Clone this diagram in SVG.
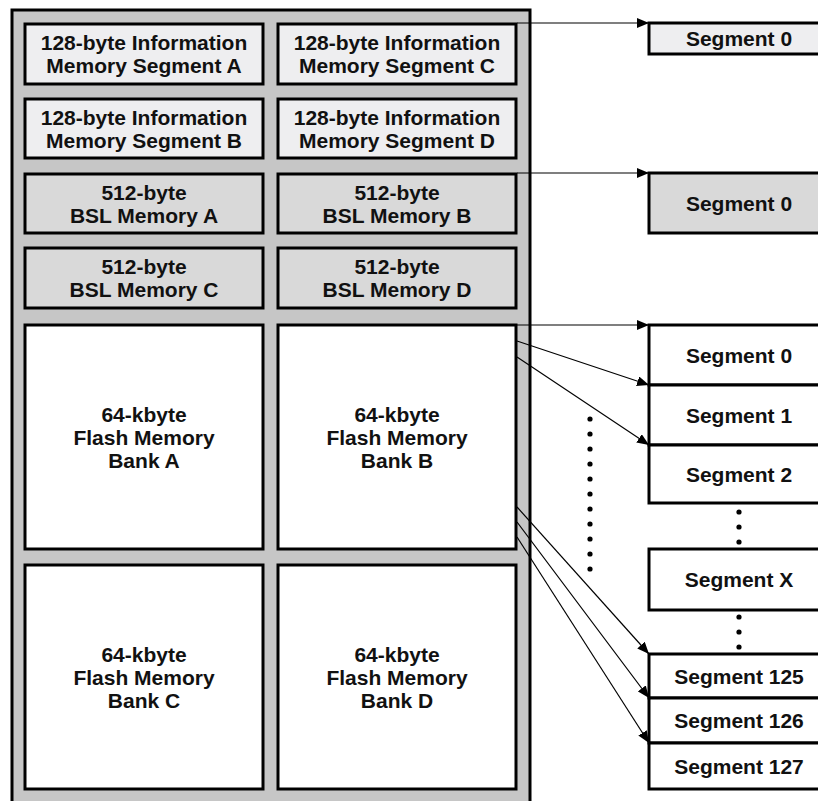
<svg xmlns="http://www.w3.org/2000/svg" width="818" height="801" viewBox="0 0 818 801">
<defs>
<style>
.blk{stroke:#000;stroke-width:3}
.info{fill:#eeeef0}
.bsl{fill:#d9d9d9}
.flash{fill:#fff}
.t{font-family:"Liberation Sans",Arial,sans-serif;font-weight:bold;font-size:21px;fill:#111;text-anchor:middle}
.c{stroke:#000;stroke-width:1.2;fill:none;marker-end:url(#ah)}
.dot{fill:#000}
</style>
<marker id="ah" viewBox="0 0 12 10" refX="12" refY="5" markerWidth="12" markerHeight="10" markerUnits="userSpaceOnUse" orient="auto">
<path d="M0,0 L12,5 L0,10 Z" fill="#000"/>
</marker>
</defs>
<rect width="818" height="801" fill="#fff"/>
<g id="container">
<rect x="12" y="10" width="518" height="794" fill="#c6c6c6" class="blk"/>
</g>
<g id="info-a"><rect x="25" y="24" width="238" height="60" class="blk info"/><text class="t" x="144" y="50">128-byte Information</text><text class="t" x="144" y="73">Memory Segment A</text></g>
<g id="info-c"><rect x="278" y="24" width="238" height="60" class="blk info"/><text class="t" x="397" y="50">128-byte Information</text><text class="t" x="397" y="73">Memory Segment C</text></g>
<g id="info-b"><rect x="25" y="99" width="238" height="59" class="blk info"/><text class="t" x="144" y="124.5">128-byte Information</text><text class="t" x="144" y="147.5">Memory Segment B</text></g>
<g id="info-d"><rect x="278" y="99" width="238" height="59" class="blk info"/><text class="t" x="397" y="124.5">128-byte Information</text><text class="t" x="397" y="147.5">Memory Segment D</text></g>
<g id="bsl-a"><rect x="25" y="174" width="238" height="59" class="blk bsl"/><text class="t" x="144" y="199.5">512-byte</text><text class="t" x="144" y="222.5">BSL Memory A</text></g>
<g id="bsl-b"><rect x="278" y="174" width="238" height="59" class="blk bsl"/><text class="t" x="397" y="199.5">512-byte</text><text class="t" x="397" y="222.5">BSL Memory B</text></g>
<g id="bsl-c"><rect x="25" y="248" width="238" height="60" class="blk bsl"/><text class="t" x="144" y="274">512-byte</text><text class="t" x="144" y="297">BSL Memory C</text></g>
<g id="bsl-d"><rect x="278" y="248" width="238" height="60" class="blk bsl"/><text class="t" x="397" y="274">512-byte</text><text class="t" x="397" y="297">BSL Memory D</text></g>
<g id="flash-a"><rect x="25" y="325" width="238" height="224" class="blk flash"/><text class="t" x="144" y="421.5">64-kbyte</text><text class="t" x="144" y="444.5">Flash Memory</text><text class="t" x="144" y="467.5">Bank A</text></g>
<g id="flash-b"><rect x="278" y="325" width="238" height="224" class="blk flash"/><text class="t" x="397" y="421.5">64-kbyte</text><text class="t" x="397" y="444.5">Flash Memory</text><text class="t" x="397" y="467.5">Bank B</text></g>
<g id="flash-c"><rect x="25" y="565" width="238" height="224" class="blk flash"/><text class="t" x="144" y="661.5">64-kbyte</text><text class="t" x="144" y="684.5">Flash Memory</text><text class="t" x="144" y="707.5">Bank C</text></g>
<g id="flash-d"><rect x="278" y="565" width="238" height="224" class="blk flash"/><text class="t" x="397" y="661.5">64-kbyte</text><text class="t" x="397" y="684.5">Flash Memory</text><text class="t" x="397" y="707.5">Bank D</text></g>
<g id="info-seg0"><rect x="649" y="23" width="190" height="31" class="blk info"/><text class="t" x="739" y="46">Segment 0</text></g>
<g id="bsl-seg0"><rect x="649" y="173" width="190" height="60" class="blk bsl"/><text class="t" x="739" y="210.5">Segment 0</text></g>
<g id="flash-seg0"><rect x="649" y="325" width="190" height="60" class="blk flash"/><text class="t" x="739" y="362.5">Segment 0</text></g>
<g id="flash-seg1"><rect x="649" y="385" width="190" height="60" class="blk flash"/><text class="t" x="739" y="422.5">Segment 1</text></g>
<g id="flash-seg2"><rect x="649" y="445" width="190" height="58" class="blk flash"/><text class="t" x="739" y="481.5">Segment 2</text></g>
<g id="flash-segx"><rect x="649" y="549" width="190" height="61" class="blk flash"/><text class="t" x="739" y="587">Segment X</text></g>
<g id="flash-seg125"><rect x="649" y="654" width="190" height="44" class="blk flash"/><text class="t" x="739" y="683.5">Segment 125</text></g>
<g id="flash-seg126"><rect x="649" y="698" width="190" height="45" class="blk flash"/><text class="t" x="739" y="728">Segment 126</text></g>
<g id="flash-seg127"><rect x="649" y="743" width="190" height="46" class="blk flash"/><text class="t" x="739" y="773.5">Segment 127</text></g>
<g id="ellipses">
<circle class="dot" cx="590" cy="419" r="2.6"/><circle class="dot" cx="590" cy="434" r="2.6"/><circle class="dot" cx="590" cy="449" r="2.6"/><circle class="dot" cx="590" cy="464" r="2.6"/><circle class="dot" cx="590" cy="479" r="2.6"/><circle class="dot" cx="590" cy="494" r="2.6"/><circle class="dot" cx="590" cy="509" r="2.6"/><circle class="dot" cx="590" cy="524" r="2.6"/><circle class="dot" cx="590" cy="539" r="2.6"/><circle class="dot" cx="590" cy="554" r="2.6"/><circle class="dot" cx="590" cy="569" r="2.6"/>
<circle class="dot" cx="739" cy="512" r="2.6"/><circle class="dot" cx="739" cy="527" r="2.6"/><circle class="dot" cx="739" cy="542" r="2.6"/>
<circle class="dot" cx="739" cy="617" r="2.6"/><circle class="dot" cx="739" cy="632" r="2.6"/><circle class="dot" cx="739" cy="647" r="2.6"/>
</g>
<g id="connectors">
<line class="c" x1="517" y1="23" x2="649" y2="23"/>
<line class="c" x1="517" y1="173" x2="649" y2="173"/>
<line class="c" x1="517" y1="325" x2="649" y2="325"/>
<line class="c" x1="517" y1="341" x2="649" y2="385"/>
<line class="c" x1="517" y1="357" x2="649" y2="445"/>
<line class="c" x1="517" y1="507" x2="649" y2="654"/>
<line class="c" x1="517" y1="522" x2="649" y2="698"/>
<line class="c" x1="517" y1="537" x2="649" y2="743"/>
</g>
</svg>
